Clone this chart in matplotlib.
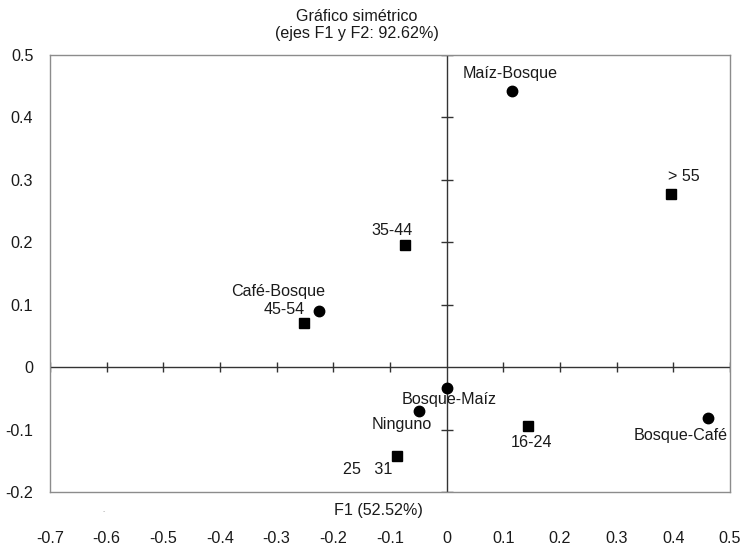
import matplotlib
matplotlib.use("Agg")
import matplotlib.pyplot as plt

plt.rcParams['font.family'] = ['Liberation Sans', 'DejaVu Sans']

# modalidades fila (circulos)
row_labels = ["Maíz-Bosque", "Café-Bosque", "Bosque-Maíz", "Ninguno", "Bosque-Café"]
row_f1 = [0.116, -0.226, 0.000, -0.049, 0.461]
row_f2 = [0.443, 0.090, -0.033, -0.070, -0.082]

# modalidades columna (cuadrados)
col_labels = ["> 55", "35-44", "45-54", "16-24", "25   31"]
col_f1 = [0.395, -0.074, -0.251, 0.143, -0.088]
col_f2 = [0.278, 0.195, 0.070, -0.094, -0.142]

x_ticks = [-0.7, -0.6, -0.5, -0.4, -0.3, -0.2, -0.1, 0, 0.1, 0.2, 0.3, 0.4, 0.5]
y_ticks = [-0.2, -0.1, 0, 0.1, 0.2, 0.3, 0.4, 0.5]
x_tick_labels = ["-0.7", "-0.6", "-0.5", "-0.4", "-0.3", "-0.2", "-0.1", "0",
                 "0.1", "0.2", "0.3", "0.4", "0.5"]
y_tick_labels = ["-0.2", "-0.1", "0", "0.1", "0.2", "0.3", "0.4", "0.5"]

# desplazamiento de etiquetas en pixeles (dx, dy)
label_offsets = {
    "Maíz-Bosque": (-2, 17), "Café-Bosque": (-40, 19), "Bosque-Maíz": (2, -12),
    "Ninguno": (-17, -14), "Bosque-Café": (-27, -17),
    "> 55": (13, 17), "35-44": (-13, 15), "45-54": (-20, 14),
    "16-24": (4, -17), "25   31": (-29, -14),
}

FS = 11.6
W, H = 742, 547
fig = plt.figure(figsize=(W / 100, H / 100), dpi=100)
ax = fig.add_axes([50 / W, 1 - 492 / H, 680 / W, 437 / H])

ax.set_xlim(x_ticks[0], x_ticks[-1])
ax.set_ylim(y_ticks[0], y_ticks[-1])

# ejes centrales con marcas cruzadas
axis_col = "#333333"
ax.axhline(0, color=axis_col, lw=1, zorder=1)
ax.axvline(0, color=axis_col, lw=1, zorder=1)
ax.plot([v for v in x_ticks if v != 0], [0] * (len(x_ticks) - 1), ls="none",
        marker="|", ms=7, mew=1, color=axis_col, zorder=1)
ax.plot([0] * (len(y_ticks) - 1), [v for v in y_ticks if v != 0], ls="none",
        marker="_", ms=8, mew=1, color=axis_col, zorder=1)

ax.plot(row_f1, row_f2, ls="none", marker="o", ms=7.5, color="black", zorder=3)
ax.plot(col_f1, col_f2, ls="none", marker="s", ms=6.5, color="black", zorder=3)

for lab, x, y in zip(row_labels + col_labels, row_f1 + col_f1, row_f2 + col_f2):
    ax.annotate(lab, (x, y), xytext=label_offsets[lab], textcoords="offset pixels",
                ha="center", va="center", fontsize=FS, color="#1a1a1a")

ax.set_xticks(x_ticks, x_tick_labels)
ax.set_yticks(y_ticks, y_tick_labels)
ax.tick_params(axis="both", length=0, labelsize=FS, colors="#1a1a1a")
ax.tick_params(axis="x", pad=28)
ax.tick_params(axis="y", pad=12)
for s in ax.spines.values():
    s.set_color("#8c8c8c")
    s.set_linewidth(1)

fig.text(356.5 / W, 1 - 25 / H, "Gráfico simétrico\n(ejes F1 y F2: 92.62%)",
         ha="center", va="center", fontsize=FS, color="#1a1a1a", linespacing=1.2)
fig.text(378 / W, 1 - 510 / H, "F1 (52.52%)", ha="center", va="center",
         fontsize=FS, color="#1a1a1a")
fig.text(104 / W, 1 - 512 / H, "-", ha="center", va="center", fontsize=5,
         color="#aaaaaa")

fig.savefig("out.png", dpi=100)
